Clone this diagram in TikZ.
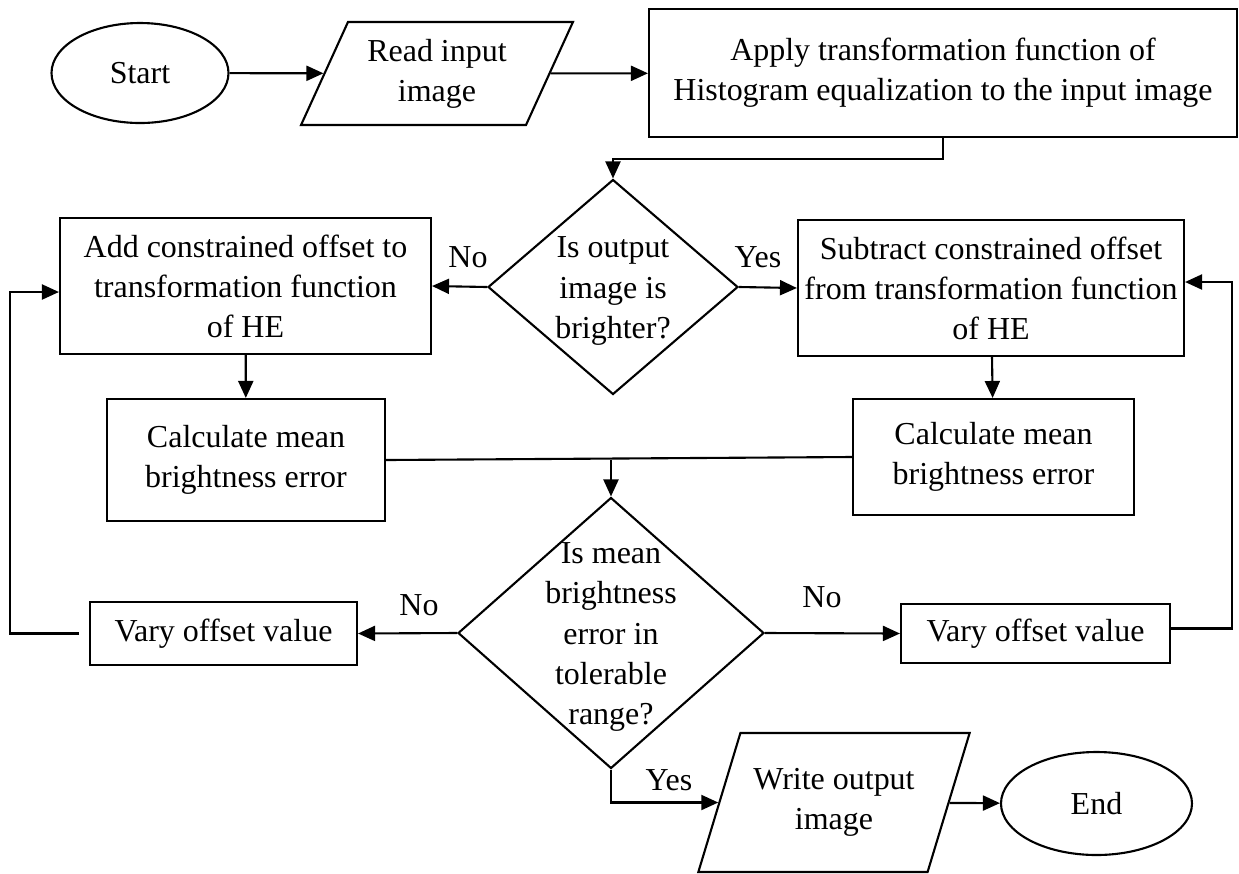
\documentclass[tikz,border=0pt]{standalone}
\usepackage{fontspec}
\setmainfont{Liberation Serif}
\usetikzlibrary{shapes.geometric,arrows.meta}

\tikzset{
  box/.style={draw, rectangle, inner sep=0pt, align=center},
  term/.style={draw, ellipse, inner sep=0pt},
  io/.style={draw, trapezium, trapezium left angle=62, trapezium right angle=118,
    trapezium stretches=true, inner sep=0pt, align=center},
  decision/.style={draw, diamond, inner sep=0pt},
  arr/.style={-{Triangle[length=1.7mm,width=1.5mm]}},
}

\begin{document}
\begin{tikzpicture}[x=0.1mm,y=-0.1mm,line width=0.6pt,font=\fontsize{9.1pt}{11.4pt}\selectfont]
\useasboundingbox (0,0) rectangle (1239,873);

\node[term,minimum width=17.7mm,minimum height=10mm] (start) at (140,73) {Start};
\node[io,minimum width=27.2mm,minimum height=10.3mm] (read) at (437,73.5) {Read input\\image};
\node[box,minimum width=58.8mm,minimum height=12.8mm] (apply) at (943,73)
  {Apply transformation function of\\Histogram equalization to the input image};

\node[decision,minimum width=25mm,minimum height=21.5mm,
  label={[align=center,yshift=-0.4mm]center:{Is output\\image is\\brighter?}}] (bright) at (613,287) {};

\node[box,minimum width=37.1mm,minimum height=13.6mm] (add) at (245.5,286)
  {Add constrained offset to\\transformation function\\of HE};
\node[box,minimum width=38.6mm,minimum height=13.6mm] (sub) at (991,288)
  {Subtract constrained offset\\from transformation function\\of HE};

\node[box,minimum width=27.8mm,minimum height=12.2mm] (calcl) at (246,460) {Calculate mean\\brightness error};
\node[box,minimum width=28.1mm,minimum height=11.6mm] (calcr) at (993.5,457) {Calculate mean\\brightness error};

\node[decision,minimum width=30.6mm,minimum height=27.1mm,
  label={[align=center,yshift=-0.4mm]center:{Is mean\\brightness\\error in\\tolerable\\range?}}] (tol) at (611,633) {};

\node[box,minimum width=26.7mm,minimum height=6.3mm] (varyl) at (223.5,633.5) {Vary offset value};
\node[box,minimum width=26.9mm,minimum height=5.9mm] (varyr) at (1035.5,633.5) {Vary offset value};

\node[io,minimum width=27.2mm,minimum height=13.9mm] (write) at (834,802.5) {Write output\\image};
\node[term,minimum width=19.1mm,minimum height=10.3mm] (end) at (1096.5,803.5) {End};

% labels on the branches
\node (no1) at (468,257) {No};
\node (yes1) at (758,257) {Yes};
\node (no2) at (419,605) {No};
\node (no3) at (822,597) {No};
\node (yes2) at (669,780) {Yes};

\coordinate (merge) at (tol.north |- calcl.east);

\draw[arr] (start) -- (read);
\draw[arr] (read) -- (apply);
\draw[arr] (apply.south) -- ++(0,21) -| (bright.north);
\draw[arr] (bright.west) -- (add.east);
\draw[arr] (bright.east) -- (sub.west);
\draw[arr] (add) -- (calcl);
\draw[arr] (sub) -- (calcr);
\draw (calcl.east) -- (calcr.west);
\draw[arr] (merge) -- (tol.north);
\draw[arr] (tol.west) -- (varyl.east);
\draw[arr] (tol.east) -- (varyr.west);
\draw[arr] ([yshift=0.5mm]varyr.east) -- ++(61,0) |- ([yshift=0.6mm]sub.east);
\draw[arr] ([xshift=-1mm]varyl.west) -- ++(-69,0) |- ([yshift=-0.6mm]add.west);
\draw[arr] (tol.south) |- (write.west);
\draw[arr] (write) -- (end);
\end{tikzpicture}
\end{document}
